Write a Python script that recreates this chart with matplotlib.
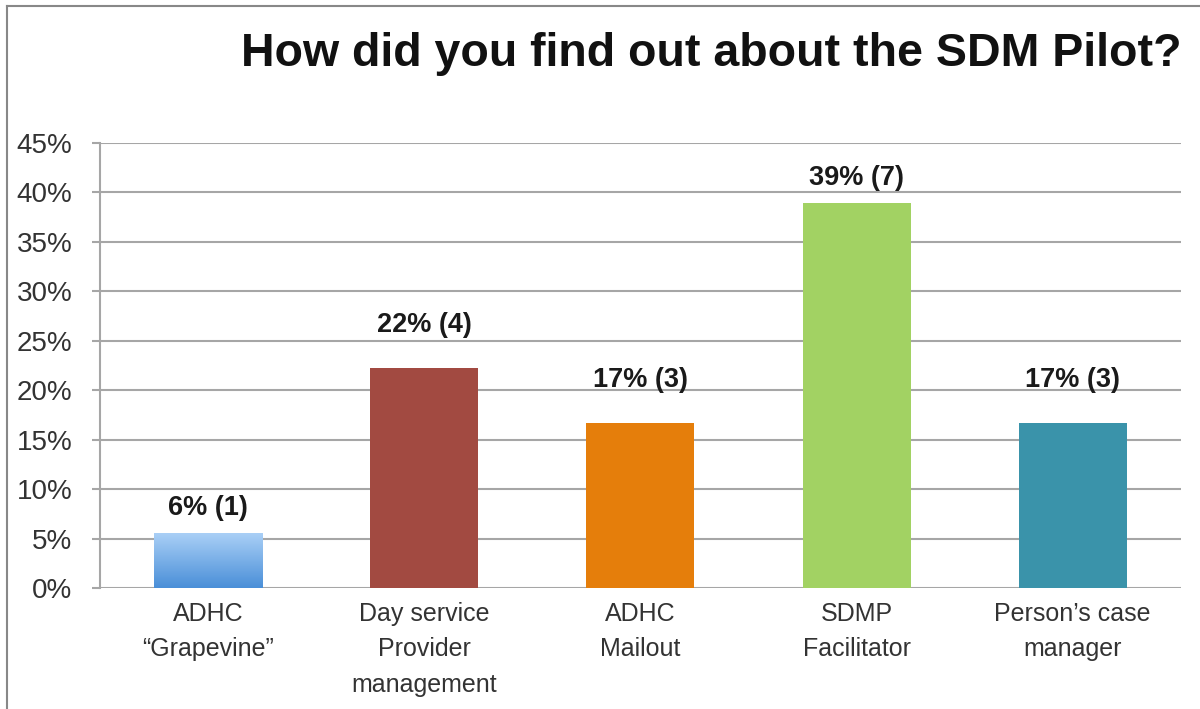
import numpy as np
import matplotlib.pyplot as plt
from matplotlib.colors import LinearSegmentedColormap
from matplotlib.lines import Line2D

plt.rcParams['font.family'] = ['Liberation Sans', 'DejaVu Sans']

# survey responses (n = 18)
categorias = ['ADHC\n\u201cGrapevine\u201d', 'Day service\nProvider\nmanagement',
              'ADHC\nMailout', 'SDMP\nFacilitator', 'Person\u2019s case\nmanager']
respuestas = [1, 4, 3, 7, 3]
total = 18
colores = ['#6aa6e6', '#a24a41', '#e57e0b', '#a2d263', '#3a93aa']

# separación (pt) entre la barra y su etiqueta
desfase_etiqueta = [13, 26, 26, 13, 26]

porcentajes = [100 * r / total for r in respuestas]

fig = plt.figure(figsize=(12, 7.09), dpi=100)
ax = fig.add_axes([0.0833, 0.1707, 0.9007, 0.6276])

x = np.arange(len(categorias))
barras = ax.bar(x, porcentajes, width=0.5, color=colores, zorder=3)

# degradado en la primera barra
grad = LinearSegmentedColormap.from_list('grad', ['#4a8fd8', '#a9cff6'])
b0 = barras[0]
b0.set_alpha(0)
ax.imshow(np.linspace(0, 1, 100).reshape(-1, 1), cmap=grad, aspect='auto',
          origin='lower', zorder=3,
          extent=[b0.get_x(), b0.get_x() + b0.get_width(), 0, b0.get_height()])

for xi, p, r, d in zip(x, porcentajes, respuestas, desfase_etiqueta):
    ax.annotate(f'{round(p)}% ({r})', (xi, p), xytext=(0, d),
                textcoords='offset points', ha='center', va='baseline',
                fontsize=19.5, fontweight='bold', color='#1a1a1a')

ax.set_xlim(-0.5, len(categorias) - 0.5)
ax.set_ylim(0, 45)
ax.set_yticks(range(0, 50, 5))
ax.set_yticklabels([f'{v}%' for v in range(0, 50, 5)], fontsize=20, color='#333333')
ax.set_xticks(x)
ax.set_xticklabels(categorias, fontsize=18, color='#333333', linespacing=1.6)
ax.tick_params(axis='x', length=0, pad=10)
ax.tick_params(axis='y', length=6, width=1.5, color='#a6a6a6', pad=14)

ax.grid(axis='y', color='#a6a6a6', linewidth=1.5, zorder=0)
for s in ['top', 'right', 'bottom']:
    ax.spines[s].set_visible(False)
ax.spines['left'].set_color('#a6a6a6')
ax.spines['left'].set_linewidth(1.5)

fig.text(0.5925, 0.924, 'How did you find out about the SDM Pilot?',
         ha='center', va='center', fontsize=33.5, fontweight='bold', color='#111111')

# marco del gráfico
fig.add_artist(Line2D([0.006, 0.006], [0, 0.992], color='#888888', linewidth=1.5))
fig.add_artist(Line2D([0.006, 1], [0.992, 0.992], color='#888888', linewidth=1.5))

fig.savefig('out.png', dpi=100)
plt.close()
